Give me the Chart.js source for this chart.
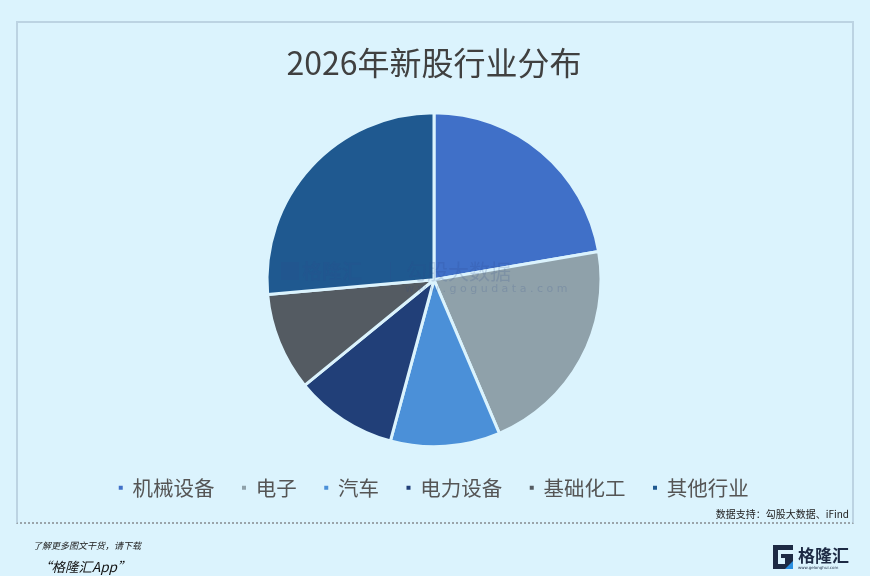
<!DOCTYPE html>
<html><head><meta charset="utf-8">
<script src="https://cdn.jsdelivr.net/npm/chart.js@4/dist/chart.umd.min.js"></script>
<style>
html,body{margin:0;padding:0;background:#dbf3fd;width:870px;height:576px;overflow:hidden;font-family:"Noto Sans CJK SC",sans-serif;}
#frame{position:absolute;left:16px;top:21px;width:834px;height:499px;border:2px solid #bcd3e2;border-bottom:2px dotted #9aa4aa;}
#wrap{position:absolute;left:0;top:0;width:870px;height:576px;}
.src{position:absolute;right:21px;top:506px;font-size:10px;color:#222;}
.f1{position:absolute;left:33px;top:539px;font-size:9px;font-style:italic;color:#222;}
.f2{position:absolute;left:38px;top:556px;font-size:13.5px;font-style:italic;color:#111;}
.logo{position:absolute;left:771px;top:543px;}
</style></head><body>
<div id="frame"></div>
<div id="wrap"><canvas id="c" width="870" height="576"></canvas></div>
<div class="src">数据支持：勾股大数据、iFind</div>
<div class="f1">了解更多图文干货，请下载</div>
<div class="f2">“格隆汇App”</div>
<div class="logo">
<svg width="80" height="28" viewBox="0 0 80 28">
<path d="M2 2 H22 V7 H7 V21 H14 V15 H10 V11 H22 V26 H2 Z" fill="#1d2a44"/>
<path d="M14 26 L22 18 L22 26 Z" fill="#2a8fe0"/>
<text x="27" y="19" font-size="17" font-weight="bold" fill="#1d2a44" font-family="Noto Sans CJK SC">格隆汇</text>
<text x="27" y="26" font-size="4" fill="#1d2a44" font-family="DejaVu Sans">www.gelonghui.com</text>
</svg></div>
<script>
const categories = ["机械设备","电子","汽车","电力设备","基础化工","其他行业"];
const shares = [22.3, 21.3, 10.6, 9.9, 9.5, 26.4];
const sliceColors = ["#4070c8","#8fa1aa","#4b90d8","#213f78","#545b62","#1f5990"];
const titleText = "2026年新股行业分布";

const watermark = {
  id:'watermark',
  afterDraw(chart){
    const ctx = chart.ctx;
    ctx.save();
    ctx.globalAlpha = 0.18;
    ctx.fillStyle = "#2a4a8a";
    ctx.textBaseline = "middle";
    ctx.font = "bold 20px 'Noto Sans CJK SC'";
    ctx.fillText("格隆汇", 302, 271);
    ctx.fillRect(281, 262, 18, 18);
    ctx.fillRect(390, 262, 1, 18);
    ctx.font = "21px 'Noto Sans CJK SC'";
    ctx.fillText("勾股大数据", 406, 271);
    ctx.font = "11px 'DejaVu Sans'";
    ctx.fillText("w w w . g o g u d a t a . c o m", 405, 289);
    ctx.restore();
  }
};

new Chart(document.getElementById('c'), {
  type: 'pie',
  data: {
    labels: categories,
    datasets: [{
      data: shares,
      backgroundColor: sliceColors,
      borderColor: "#dbf3fd",
      borderWidth: 3,
      radius: 167
    }]
  },
  options: {
    responsive: false,
    animation: false,
    layout: { padding: { top: 30, bottom: 68, left: 20, right: 22 } },
    plugins: {
      title: {
        display: true,
        text: titleText,
        color: "#404040",
        font: { family: "'Noto Sans CJK SC'", size: 32, weight: 'normal', lineHeight: 1.2 },
        padding: { top: 14, bottom: 27.6 }
      },
      legend: {
        position: 'bottom',
        labels: {
          usePointStyle: true,
          pointStyle: 'rect',
          boxWidth: 3,
          boxHeight: 7,
          padding: 28,
          color: "#555555",
          font: { family: "'Noto Sans CJK SC'", size: 20.5 }
        }
      },
      tooltip: { enabled: false }
    }
  },
  plugins: [watermark]
});
</script>
</body></html>
